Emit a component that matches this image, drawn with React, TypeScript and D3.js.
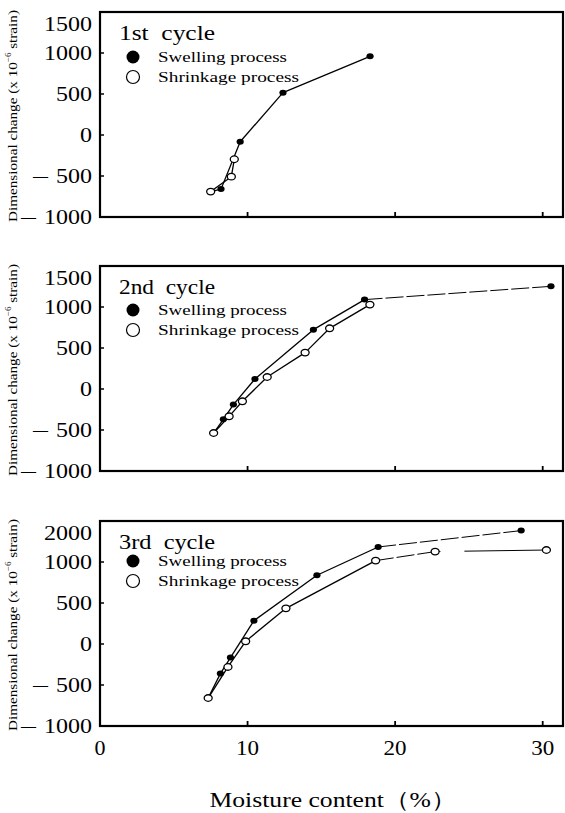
import React from 'react';
import * as d3 from 'd3';

const width = 565;
const height = 813;

// tick values and labels
const xTicks = [0, 10, 20, 30];
const yTicks = [-1000, -500, 0, 500, 1000, 1500];
const yTickLabels1 = ['−1000', '−500', '0', '500', '1000', '1500'];
const yTickLabels2 = ['−1000', '−500', '0', '500', '1000', '1500'];
const yTickLabels3 = ['−1000', '−500', '0', '500', '1000', '2000'];
const cycleNames = ['1st  cycle', '2nd  cycle', '3rd  cycle'];
const seriesNames = ['Swelling process', 'Shrinkage process'];

// 1st cycle
const swell1X = [8.2, 9.5, 12.4, 18.3];
const swell1Y = [-660, -82, 516, 960];
const shrink1X = [9.1, 8.9, 7.5];
const shrink1Y = [-296, -508, -690];

// 2nd cycle
const swell2X = [8.36, 9.04, 10.5, 14.46, 17.93, 30.56];
const swell2Y = [-370, -190, 122, 724, 1090, 1252];
const shrink2X = [18.29, 15.56, 13.9, 11.33, 9.65, 8.75, 7.7];
const shrink2Y = [1029, 740, 444, 146, -150, -333, -537];

// 3rd cycle
const swell3X = [8.16, 8.84, 10.43, 14.7, 18.85, 28.54];
const swell3Y = [-361, -166, 285, 838, 1183, 1383];
const shrink3X = [30.25, 22.71, 18.68, 12.6, 9.87, 8.67, 7.33];
const shrink3Y = [1146, 1127, 1017, 435, 33, -280, -659];

const toPts = (xs: number[], ys: number[]) => xs.map((x, i) => [x, ys[i]] as [number, number]);

// segment indexes drawn dashed (swelling segments counted from the dry start point)
const panels = [
  { top: 12, labels: yTickLabels1, swell: toPts(swell1X, swell1Y), shrink: toPts(shrink1X, shrink1Y), swellDash: [] as number[], shrinkDash: [] as number[], shrinkGap: false, legendDy: 45, xLabels: false },
  { top: 266, labels: yTickLabels2, swell: toPts(swell2X, swell2Y), shrink: toPts(shrink2X, shrink2Y), swellDash: [5], shrinkDash: [], shrinkGap: false, legendDy: 44, xLabels: false },
  { top: 521, labels: yTickLabels3, swell: toPts(swell3X, swell3Y), shrink: toPts(shrink3X, shrink3Y), swellDash: [5], shrinkDash: [1], shrinkGap: true, legendDy: 40, xLabels: true },
];

const left = 100;
const right = 564;
const ph = 205;
const font = '"Liberation Serif", "Times New Roman", serif';

const x = d3.scaleLinear().domain([0, 30]).range([left, 542.7]);

function Panel({ p, i }: { p: any; i: number }) {
  const y = d3.scaleLinear().domain([-1000, 1500]).range([p.top + ph, p.top]);
  const line = d3.line<[number, number]>().x(d => x(d[0])).y(d => y(d[1]));
  // swelling line starts from the driest shrinkage point
  const swellLine: [number, number][] = [p.shrink[p.shrink.length - 1], ...p.swell];
  const segs = (pts: [number, number][], dashed: number[], gapFirst: boolean) =>
    pts.slice(0, -1).map((d, j) => {
      let dash: string | undefined;
      if (gapFirst && j === 0) dash = '82 24 6 300';
      else if (dashed.includes(j)) dash = '18 3';
      return (
        <path key={j} d={line([d, pts[j + 1]]) || ''} fill="none" stroke="#000"
          strokeWidth={dash ? 1 : 1.3} strokeDasharray={dash} />
      );
    });
  return (
    <g>
      <rect x={left} y={p.top} width={right - left - 1} height={ph} fill="none" stroke="#000" strokeWidth={2.2} />
      {yTicks.slice(1, -1).map(t => (
        <line key={t} x1={left} x2={left + 4} y1={y(t)} y2={y(t)} stroke="#000" strokeWidth={1.5} />
      ))}
      {xTicks.slice(1).map(t => (
        <line key={t} x1={x(t)} x2={x(t)} y1={p.top + ph} y2={p.top + ph - 5} stroke="#000" strokeWidth={1.8} />
      ))}
      {yTicks.map((t, j) => {
        const lab: string = p.labels[j];
        const neg = lab.startsWith('−');
        const num = lab.replace('−', '');
        const yy = j === yTicks.length - 1 ? p.top + 12 : y(t);
        const len = num.length * 12;
        return (
          <g key={t}>
            <text x={92} y={yy} dy="0.35em" textAnchor="end" fontSize={20}
              fontFamily={font} textLength={len} lengthAdjust="spacingAndGlyphs">{num}</text>
            {neg && (
              <text x={92 - len - 23} y={yy} dy="0.35em" fontSize={20} fontFamily={font}
                textLength={15} lengthAdjust="spacingAndGlyphs">—</text>
            )}
          </g>
        );
      })}
      {p.xLabels && xTicks.map(t => (
        <text key={t} x={x(t)} y={p.top + ph + 22} dy="0.35em" textAnchor="middle" fontSize={21}
          fontFamily={font} textLength={t === 0 ? 11 : 23} lengthAdjust="spacingAndGlyphs">{t}</text>
      ))}
      <text transform={`translate(17,${p.top + 104}) rotate(-90)`} textAnchor="middle" fontSize={13.5}
        fontFamily={font} textLength={212} lengthAdjust="spacingAndGlyphs">
        Dimensional change (x 10<tspan fontSize={8} dy={-6}>−6</tspan><tspan dy={6}>  strain)</tspan>
      </text>

      {segs(swellLine, p.swellDash, false)}
      {segs(p.shrink, p.shrinkDash, p.shrinkGap)}
      {p.swell.map((d: [number, number], j: number) => (
        <ellipse key={'s' + j} cx={x(d[0])} cy={y(d[1])} rx={3.6} ry={3} fill="#000" />
      ))}
      {p.shrink.map((d: [number, number], j: number) => (
        <ellipse key={'h' + j} cx={x(d[0])} cy={y(d[1])} rx={4} ry={3.3} fill="#fff" stroke="#000" strokeWidth={1.3} />
      ))}

      <text x={119} y={p.top + 28} fontSize={22} fontFamily={font} xmlSpace="preserve"
        textLength={96} lengthAdjust="spacingAndGlyphs">{cycleNames[i]}</text>
      <circle cx={133} cy={p.top + p.legendDy} r={6.5} fill="#000" />
      <circle cx={133} cy={p.top + p.legendDy + 20} r={6.5} fill="#fff" stroke="#000" strokeWidth={1.2} />
      <text x={158} y={p.top + p.legendDy} dy="0.35em" fontSize={15} fontFamily={font}
        textLength={129} lengthAdjust="spacingAndGlyphs">{seriesNames[0]}</text>
      <text x={158} y={p.top + p.legendDy + 20} dy="0.35em" fontSize={15} fontFamily={font}
        textLength={141} lengthAdjust="spacingAndGlyphs">{seriesNames[1]}</text>
    </g>
  );
}

export default function App() {
  return (
    <svg width={width} height={height} style={{ position: 'absolute', left: 0, top: 0, background: '#fff' }}>
      {panels.map((p, i) => <Panel key={i} p={p} i={i} />)}
      <text x={333} y={807} textAnchor="middle" fontSize={22} fontFamily={font}
        textLength={247} lengthAdjust="spacingAndGlyphs">Moisture content（%）</text>
    </svg>
  );
}
